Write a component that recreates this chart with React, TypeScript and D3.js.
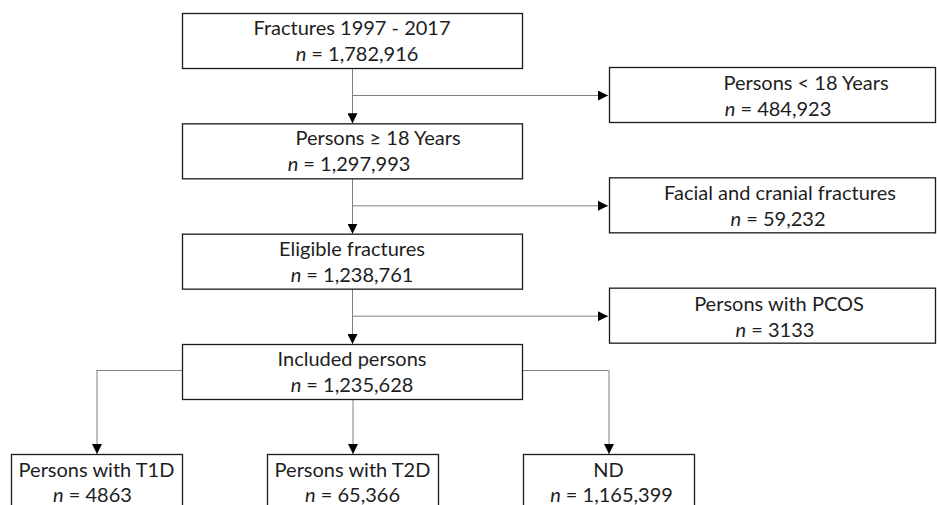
import React, { useRef, useEffect } from 'react';
import * as d3 from 'd3';

// flow steps (main column)
const mainLabels = ['Fractures 1997 - 2017', 'Persons ≥ 18 Years', 'Eligible fractures', 'Included persons'];
const mainCounts = ['1,782,916', '1,297,993', '1,238,761', '1,235,628'];

// excluded at each step
const excludedLabels = ['Persons < 18 Years', 'Facial and cranial fractures', 'Persons with PCOS'];
const excludedCounts = ['484,923', '59,232', '3133'];

// final groups
const groupLabels = ['Persons with T1D', 'Persons with T2D', 'ND'];
const groupCounts = ['4863', '65,366', '1,165,399'];

// small text nudges to follow the original layout [title, n]
const mainNudge = [[0, 5], [26, -3], [0, 0], [0, 0]];
const sideNudge = [[34, 6], [8, 6], [7, 3]];
const groupNudge = [[0, -4], [0, 0], [0, 3]];

const W = 937;
const H = 505;

const App: React.FC = () => {
  const svgRef = useRef<SVGSVGElement>(null);

  useEffect(() => {
    if (!svgRef.current) return;
    const svg = d3.select(svgRef.current);
    svg.selectAll('*').remove();

    const font = 'Lato, "Open Sans", sans-serif';
    const fontSize = 20;
    const boxStroke = '#1a1a1a';
    const lineStroke = '#808080';

    // vertical position of main boxes
    const yMain = d3.scaleLinear().domain([0, 3]).range([13, 344]);
    const boxH = 55;
    const mainX0 = 182;
    const mainW = 340;
    const cx = mainX0 + mainW / 2;

    // side boxes
    const sideX0 = 609;
    const sideW = 326;

    // bottom groups
    const xGroup = d3.scalePoint<string>().domain(groupLabels).range([96.5, 608.5]);
    const groupW = 171;
    const groupTop = 454;
    const splitY = 370;

    svg.append('defs').append('marker')
      .attr('id', 'arrow')
      .attr('viewBox', '0 0 10 10')
      .attr('refX', 10)
      .attr('refY', 5)
      .attr('markerWidth', 10)
      .attr('markerHeight', 10)
      .attr('markerUnits', 'userSpaceOnUse')
      .attr('orient', 'auto')
      .append('path')
      .attr('d', 'M0,0 L10,5 L0,10 Z')
      .attr('fill', '#000');

    const lines = svg.append('g')
      .attr('stroke', lineStroke)
      .attr('stroke-width', 1)
      .attr('fill', 'none');

    // vertical arrows between main boxes + branch to excluded
    excludedLabels.forEach((_, i) => {
      const y0 = yMain(i) + boxH;
      const y1 = yMain(i + 1);
      const by = yMain(i) + 82.5;
      lines.append('line')
        .attr('x1', cx + 0.5).attr('x2', cx + 0.5)
        .attr('y1', y0).attr('y2', y1)
        .attr('marker-end', 'url(#arrow)');
      lines.append('line')
        .attr('x1', cx).attr('x2', sideX0 - 1)
        .attr('y1', by).attr('y2', by)
        .attr('marker-end', 'url(#arrow)');
    });

    // split into groups
    const last = yMain(3);
    lines.append('line')
      .attr('x1', xGroup(groupLabels[0])!).attr('x2', mainX0)
      .attr('y1', splitY + 0.5).attr('y2', splitY + 0.5);
    lines.append('line')
      .attr('x1', mainX0 + mainW).attr('x2', xGroup(groupLabels[2])!)
      .attr('y1', splitY + 0.5).attr('y2', splitY + 0.5);
    groupLabels.forEach((g, i) => {
      const x = xGroup(g)! + 0.5;
      lines.append('line')
        .attr('x1', x).attr('x2', x)
        .attr('y1', i === 1 ? last + boxH : splitY)
        .attr('y2', groupTop)
        .attr('marker-end', 'url(#arrow)');
    });

    const drawBox = (x: number, y: number, w: number, title: string, count: string,
      nudge: number[], ty: number, ny: number) => {
      const g = svg.append('g');
      g.append('rect')
        .attr('x', x + 0.5).attr('y', y + 0.5)
        .attr('width', w).attr('height', boxH)
        .attr('fill', '#fff')
        .attr('stroke', boxStroke)
        .attr('stroke-width', 1.3);
      const mx = x + w / 2;
      g.append('text')
        .attr('x', mx + nudge[0]).attr('y', y + ty)
        .attr('text-anchor', 'middle')
        .attr('font-family', font)
        .attr('font-size', fontSize)
        .attr('fill', '#1e1e1e')
        .text(title);
      const t = g.append('text')
        .attr('x', mx + nudge[1]).attr('y', y + ny)
        .attr('text-anchor', 'middle')
        .attr('font-family', font)
        .attr('font-size', fontSize)
        .attr('fill', '#1e1e1e');
      t.append('tspan').attr('font-style', 'italic').text('n');
      t.append('tspan').text(` = ${count}`);
    };

    mainLabels.forEach((l, i) => {
      drawBox(mainX0, yMain(i), mainW, l, mainCounts[i], mainNudge[i], 22, 48);
    });
    excludedLabels.forEach((l, i) => {
      drawBox(sideX0, yMain(i) + 54, sideW, l, excludedCounts[i], sideNudge[i], 23, 49);
    });
    groupLabels.forEach((l, i) => {
      drawBox(xGroup(l)! - groupW / 2, groupTop, groupW, l, groupCounts[i], groupNudge[i], 23, 48);
    });
  }, []);

  return (
    <svg ref={svgRef} width={W} height={H}
      style={{ position: 'absolute', left: 0, top: 0, background: '#fff' }} />
  );
};

export default App;
